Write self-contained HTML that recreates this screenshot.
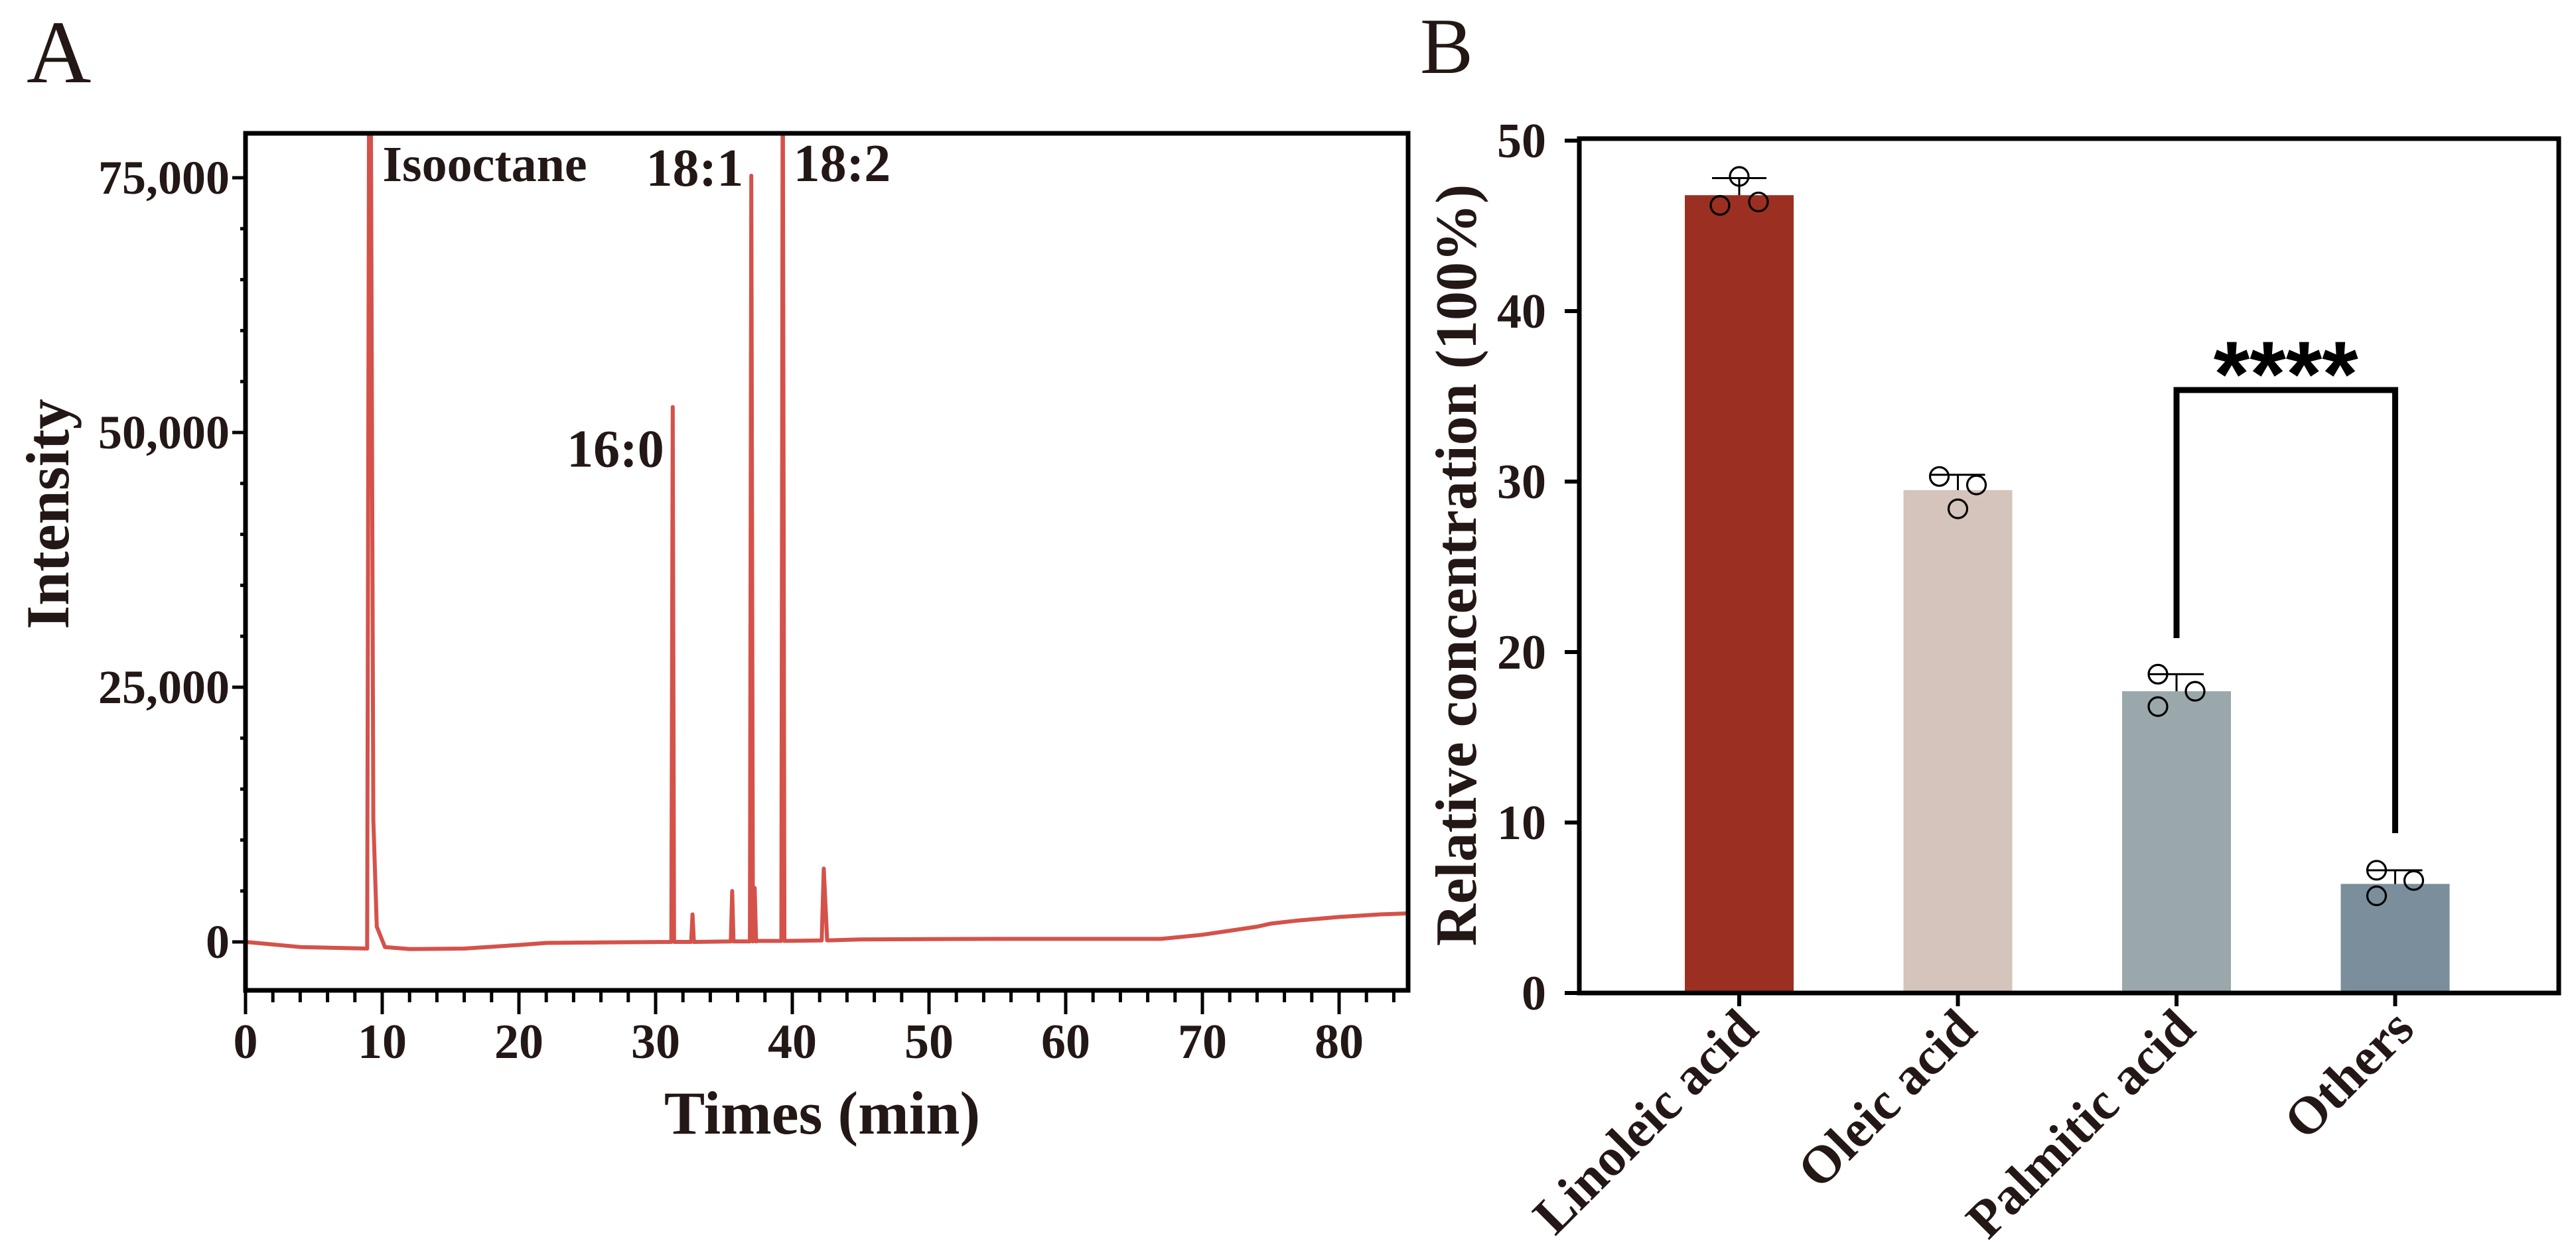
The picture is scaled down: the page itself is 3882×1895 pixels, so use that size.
<!DOCTYPE html>
<html><head><meta charset="utf-8"><style>
html,body{margin:0;padding:0;background:#fff;}
svg{display:block;}
text{font-family:"Liberation Serif",serif;fill:#231815;}
</style></head><body>
<svg id="fig" width="3882" height="1895" viewBox="0 0 3882 1895" xmlns="http://www.w3.org/2000/svg">
<defs><clipPath id="clipA"><rect x="370" y="201" width="1752" height="1292"/></clipPath></defs>
<text x="40" y="124" font-size="135">A</text>
<text x="2140" y="110" font-size="120">B</text>
<g id="chartA"></g>
<g id="chartB"></g>
</svg>
<script>
// ---------- Panel A data ----------
const aTimes = [0,4,8.9,9.05,9.15,9.35,9.6,10.2,12,16,20,22,26,31.15,31.25,31.35,32.6,32.7,32.8,35.5,35.6,35.7,36.9,37.0,37.12,37.25,37.35,37.45,39.2,39.3,39.42,42.15,42.3,42.55,45,55,67,70,72,74,75,77,80,83,85];
const aIntensity = [0,-500,-650,90000,90000,12000,1500,-500,-700,-650,-300,-100,-50,0,52500,0,0,2700,0,50,5000,50,50,75200,50,5300,50,100,100,90000,100,150,7200,150,250,300,300,700,1100,1500,1800,2100,2450,2700,2800];
const aXTicks = [0,10,20,30,40,50,60,70,80];
const aYTicks = [0,25000,50000,75000];
const aYTickLabels = ["0","25,000","50,000","75,000"];
const aPeakNames = ["Isooctane","18:2","18:1","16:0"];
const aPeakTimes = [9.1,39.3,37.0,31.3];
const aPeakLabelY = [79000,79000,75200,52500];

// ---------- Panel B data ----------
const bCategories = ["Linoleic acid","Oleic acid","Palmitic acid","Others"];
const bMeans = [46.8,29.5,17.7,6.4];
const bErrTop = [47.8,30.4,18.7,7.2];
const bPoints = [[46.2,46.4,47.9],[30.3,29.8,28.4],[16.8,17.7,18.7],[5.7,6.6,7.2]];
const bColors = ["#9b2f21","#d5c4bb","#9aa8ab","#7a8f9b"];
const bYTicks = [0,10,20,30,40,50];

const NS = "http://www.w3.org/2000/svg";
function mk(parent, tag, attrs, txt){
  const e = document.createElementNS(NS, tag);
  for (const k in attrs) e.setAttribute(k, attrs[k]);
  if (txt !== undefined) e.textContent = txt;
  parent.appendChild(e);
  return e;
}

// ---------- Panel A ----------
(function(){
  const g = document.getElementById('chartA');
  const L=370, R=2122, T=201, B=1493;
  const xA = t => L + (t-0)*20.6;
  const yA = v => 1420 - v/25000*384;
  let d = "";
  for (let i=0;i<aTimes.length;i++){ d += (i?"L":"M")+xA(aTimes[i]).toFixed(1)+" "+yA(aIntensity[i]).toFixed(1); }
  const trace = mk(g,'path',{d:d,fill:'none',stroke:'#d4524a','stroke-width':6,'stroke-linejoin':'round','clip-path':'url(#clipA)'});
  
  
  const frame = mk(g,'rect',{x:L,y:T,width:R-L,height:B-T,fill:'none',stroke:'#000','stroke-width':7});
  
  
  for (let t=0;t<=84;t+=2){
    const major = t%10===0;
    const tk = mk(g,'line',{x1:xA(t),x2:xA(t),y1:B,y2:B+(major?36:18),stroke:'#000','stroke-width':5});
    
    
  }
  aXTicks.forEach(t=>{
    const lb = mk(g,'text',{x:xA(t),y:1595,'font-size':74,'font-weight':'bold','text-anchor':'middle'},String(t));
    
    
  });
  for (let v=0;v<=75000;v+=5000){
    const major = v%25000===0;
    const tk = mk(g,'line',{x1:L,x2:L-(major?20:8),y1:yA(v),y2:yA(v),stroke:'#000','stroke-width':5});
    
    
  }
  aYTicks.forEach((v,i)=>{
    const lb = mk(g,'text',{x:346,y:yA(v)+24,'font-size':72,'font-weight':'bold','text-anchor':'end'},aYTickLabels[i]);
    
    
  });
  const offs = [[19,0],[16,0],[-12,15],[-14,90]];
  aPeakNames.forEach((n,i)=>{
    const right = offs[i][0] > 0;
    const lb = mk(g,'text',{x:xA(aPeakTimes[i])+offs[i][0],y:(i<2?273:yA(aPeakLabelY[i])+offs[i][1]),'font-size':i===0?76:80,'font-weight':'bold','text-anchor':right?'start':'end'},n);
    
    
  });
  const xt = mk(g,'text',{x:1239,y:1709,'font-size':92,'font-weight':'bold','text-anchor':'middle'},'Times (min)');
  
  
  const yt = mk(g,'text',{x:0,y:0,'font-size':92,'font-weight':'bold','text-anchor':'middle',transform:'translate(103,775) rotate(-90)'},'Intensity');
  
  
})();

// ---------- Panel B ----------
(function(){
  const g = document.getElementById('chartB');
  const L=2380, R=3856, T=209, B=1497;
  const yB = v => 1497 - v*25.7;
  const xB = i => 2621 + i*329.5;
  const bw = 164;
  bCategories.forEach((c,i)=>{
    const bar = mk(g,'rect',{x:xB(i)-bw/2,y:yB(bMeans[i]),width:bw,height:yB(0)-yB(bMeans[i]),fill:bColors[i]});
    
    
    const ev = mk(g,'line',{x1:xB(i),x2:xB(i),y1:yB(bMeans[i]),y2:yB(bErrTop[i]),stroke:'#000','stroke-width':3});
    
    
    const cap = mk(g,'line',{x1:xB(i)-41,x2:xB(i)+41,y1:yB(bErrTop[i]),y2:yB(bErrTop[i]),stroke:'#000','stroke-width':3});
    
    
    const offsets = i===0 ? [-29,29,0] : (i===1 ? [-28,28,0] : [-28,28,-28]);
    bPoints[i].forEach((v,j)=>{
      const pt = mk(g,'circle',{cx:xB(i)+offsets[j],cy:yB(v),r:14,fill:'none',stroke:'#000','stroke-width':3.2});
      
      
    });
    const tk = mk(g,'line',{x1:xB(i),x2:xB(i),y1:B,y2:B+20,stroke:'#000','stroke-width':6});
    
    
    const lb = mk(g,'text',{x:0,y:0,'font-size':80,'font-weight':'bold','text-anchor':'end',transform:'translate('+(xB(i)+32)+',1555) rotate(-45)'},c);
    
    
  });
  const frame = mk(g,'rect',{x:L,y:T,width:R-L,height:B-T,fill:'none',stroke:'#000','stroke-width':7});
  
  
  bYTicks.forEach(v=>{
    const tk = mk(g,'line',{x1:L,x2:L-22,y1:yB(v),y2:yB(v),stroke:'#000','stroke-width':6});
    
    
    const lb = mk(g,'text',{x:2330,y:yB(v)+25,'font-size':74,'font-weight':'bold','text-anchor':'end'},String(v));
    
    
  });
  const br = mk(g,'path',{d:'M'+xB(2)+' 962 V588 H'+xB(3)+' V1256',fill:'none',stroke:'#000','stroke-width':9});
  
  
  const st = mk(g,'text',{x:(xB(2)+xB(3))/2,y:612,'font-size':140,'font-weight':'bold','text-anchor':'middle',style:'font-family:"Liberation Sans",sans-serif;fill:#000'},'****');
  
  
  const yt = mk(g,'text',{x:0,y:0,'font-size':88,'font-weight':'bold','text-anchor':'middle',transform:'translate(2224,852) rotate(-90)'},'Relative concentration (100%)');
  
  
})();
</script>
</body></html>
